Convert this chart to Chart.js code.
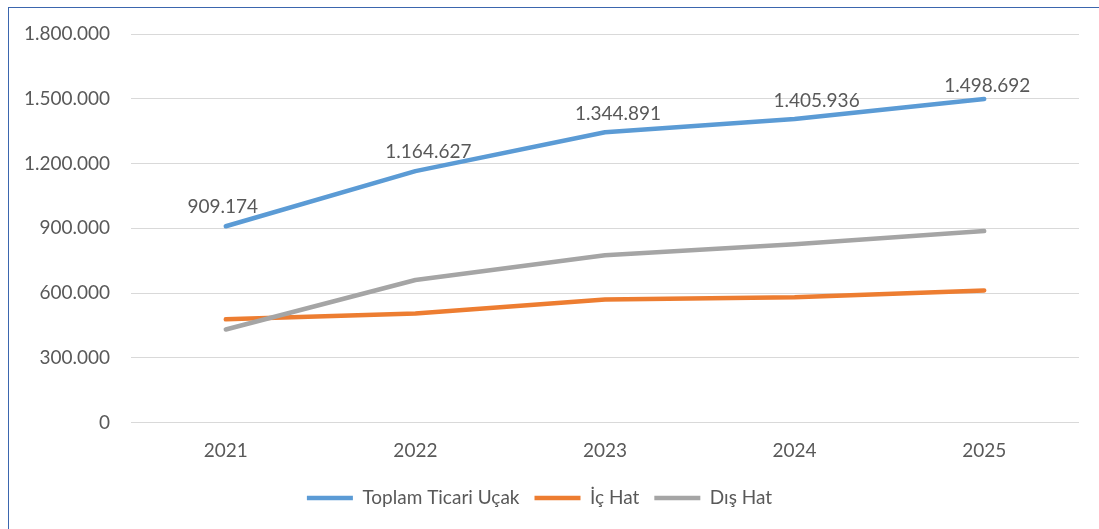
<!DOCTYPE html>
<html>
<head>
<meta charset="utf-8">
<script src="https://cdn.jsdelivr.net/npm/chart.js@4/dist/chart.umd.min.js"></script>
<style>
  html, body { margin: 0; padding: 0; background: #ffffff; overflow: hidden; }
  #wrap { position: relative; width: 1099px; height: 529px; }
  #c { position: absolute; left: 0; top: 0; }
  #frame { position: absolute; left: 8px; top: 7px; width: 1200px; height: 600px;
           border: 1.5px solid #3B66AE; pointer-events: none; box-sizing: border-box; }
</style>
</head>
<body>
<div id="wrap">
  <canvas id="c" width="1099" height="529"></canvas>
  <div id="frame"></div>
</div>
<script>
const years = ['2021', '2022', '2023', '2024', '2025'];
const toplamTicariUcak = [909174, 1164627, 1344891, 1405936, 1498692];
const icHat = [478000, 505000, 570000, 580000, 612000];
const disHat = [431000, 660000, 775000, 826000, 887000];
const yTicks = [0, 300000, 600000, 900000, 1200000, 1500000, 1800000];

const FONT = 'Lato, "Open Sans", sans-serif';
const TXT = '#595959';

function fmt(v) {
  return String(Math.round(v)).replace(/\B(?=(\d{3})+(?!\d))/g, '.');
}

const labelPlugin = {
  id: 'pointValues',
  afterDatasetsDraw(chart, args, opts) {
    const ctx = chart.ctx;
    const meta = chart.getDatasetMeta(0);
    const data = chart.data.datasets[0].data;
    ctx.save();
    ctx.font = '19px ' + FONT;
    ctx.fillStyle = TXT;
    ctx.textAlign = 'center';
    ctx.textBaseline = 'middle';
    meta.data.forEach((pt, i) => {
      const dx = opts.dx[i] || 0;
      const dy = opts.dy[i] || 0;
      ctx.fillText(fmt(data[i]), pt.x + dx, pt.y + dy);
    });
    ctx.restore();
  }
};

const lineStyle = {
  borderWidth: 4.5,
  pointRadius: 0,
  pointHoverRadius: 0,
  tension: 0,
  borderCapStyle: 'round',
  borderJoinStyle: 'round',
  fill: false
};

new Chart(document.getElementById('c'), {
  type: 'line',
  data: {
    labels: years,
    datasets: [
      Object.assign({ label: 'Toplam Ticari Uçak', data: toplamTicariUcak, borderColor: '#5B9BD5', backgroundColor: '#5B9BD5', order: 0 }, lineStyle),
      Object.assign({ label: 'İç Hat', data: icHat, borderColor: '#ED7D31', backgroundColor: '#ED7D31', order: 2 }, lineStyle),
      Object.assign({ label: 'Dış Hat', data: disHat, borderColor: '#A5A5A5', backgroundColor: '#A5A5A5', order: 1 }, lineStyle)
    ]
  },
  options: {
    responsive: false,
    animation: false,
    layout: { padding: { top: 34, left: 0, right: 20, bottom: 11.5 } },
    scales: {
      x: {
        offset: true,
        grid: { display: false, drawTicks: false, offset: true },
        border: { display: false },
        ticks: { color: TXT, font: { family: FONT, size: 19 }, padding: 17 },
        afterFit(scale) { scale.height = 51; }
      },
      y: {
        min: 0,
        max: 1800000,
        afterBuildTicks(scale) { scale.ticks = yTicks.map(v => ({ value: v })); },
        grid: { color: '#D9D9D9', lineWidth: 1, drawTicks: false },
        border: { display: false },
        ticks: { color: TXT, font: { family: FONT, size: 19 }, padding: 21, callback: v => fmt(v) },
        afterFit(scale) { scale.width = 131; }
      }
    },
    plugins: {
      legend: {
        position: 'bottom',
        labels: {
          usePointStyle: true,
          pointStyle: 'line',
          pointStyleWidth: 46,
          color: TXT,
          font: { family: FONT, size: 19 },
          padding: 15,
          sort: (a, b) => a.datasetIndex - b.datasetIndex
        }
      },
      tooltip: { enabled: false },
      pointValues: { dx: [-3, 13, 13, 22, 3], dy: [-19, -19, -18, -18, -13] }
    }
  },
  plugins: [labelPlugin]
});
</script>
</body>
</html>
